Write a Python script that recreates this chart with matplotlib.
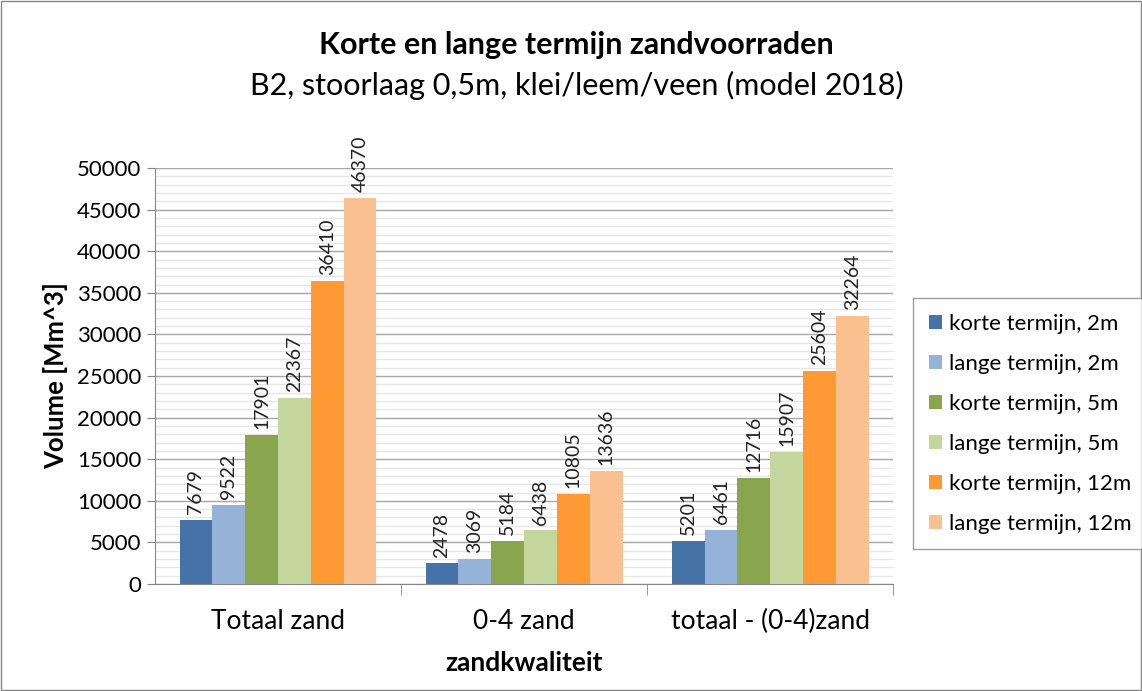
import numpy as np
import matplotlib
matplotlib.use("Agg")
import matplotlib.pyplot as plt
from matplotlib.patches import Rectangle

plt.rcParams['font.family'] = ['Lato', 'DejaVu Sans']

categories = ["Totaal zand", "0-4 zand", "totaal - (0-4)zand"]
series = ["korte termijn, 2m", "lange termijn, 2m", "korte termijn, 5m",
          "lange termijn, 5m", "korte termijn, 12m", "lange termijn, 12m"]
k2 = [7679, 2478, 5201]
l2 = [9522, 3069, 6461]
k5 = [17901, 5184, 12716]
l5 = [22367, 6438, 15907]
k12 = [36410, 10805, 25604]
l12 = [46370, 13636, 32264]
values = [k2, l2, k5, l5, k12, l12]
colors = ["#4572A7", "#95B3D7", "#89A54E", "#C3D69B", "#FF9933", "#FAC090"]

fig = plt.figure(figsize=(11.42, 6.91), dpi=100)
ax = fig.add_axes([0.1357, 0.1548, 0.6465, 0.602])

x = np.arange(len(categories))
w = 0.8 / len(series)
for i, (s, v, c) in enumerate(zip(series, values, colors)):
    pos = x - 0.4 + w * (i + 0.5)
    ax.bar(pos, v, width=w, color=c, label=s, zorder=3)
    for p, val in zip(pos, v):
        ax.text(p, val + 700, str(val), rotation=90, ha="center", va="bottom",
                fontsize=14, color="#222222")

ax.set_xlim(-0.5, 2.5)
ax.set_ylim(0, 50000)
ax.set_yticks(np.arange(0, 50001, 5000))
ax.set_yticks(np.arange(0, 50001, 1000), minor=True)
ax.yaxis.grid(True, which="major", color="#A6A6A6", lw=1, zorder=0)
ax.yaxis.grid(True, which="minor", color="#E6E6E6", lw=1, zorder=0)
ax.tick_params(axis="y", which="minor", length=0)
ax.tick_params(axis="y", which="major", length=6, color="#868686", labelsize=16, pad=4)

ax.set_xticks(x)
ax.set_xticklabels(categories, fontsize=19)
ax.tick_params(axis="x", which="major", length=0, pad=18)
ax.set_xticks([0.5, 1.5, 2.5], minor=True)
ax.tick_params(axis="x", which="minor", length=8, color="#868686")

for sp in ["top", "right"]:
    ax.spines[sp].set_visible(False)
for sp in ["left", "bottom"]:
    ax.spines[sp].set_color("#868686")

ax.set_xlabel("zandkwaliteit", fontsize=19, fontweight="bold", labelpad=12)
ax.set_ylabel("Volume [Mm^3]", fontsize=18.5, fontweight="bold", labelpad=6)

fig.text(0.505, 0.935, "Korte en lange termijn zandvoorraden", ha="center", va="center",
         fontsize=22, fontweight="bold")
fig.text(0.505, 0.877, "B2, stoorlaag 0,5m, klei/leem/veen (model 2018)", ha="center",
         va="center", fontsize=22)

leg = fig.legend(loc="upper left", bbox_to_anchor=(0.7995, 0.5687), fontsize=16,
                 frameon=True, fancybox=False, edgecolor="#868686",
                 handlelength=0.6, handleheight=0.6, handletextpad=0.3,
                 labelspacing=0.9, borderpad=0.7, borderaxespad=0)
leg.get_frame().set_linewidth(1)

fig.patches.append(Rectangle((0.001, 0.001), 0.998, 0.998, transform=fig.transFigure,
                             fill=False, edgecolor="#868686", lw=1))

fig.savefig("out.png", dpi=100)
